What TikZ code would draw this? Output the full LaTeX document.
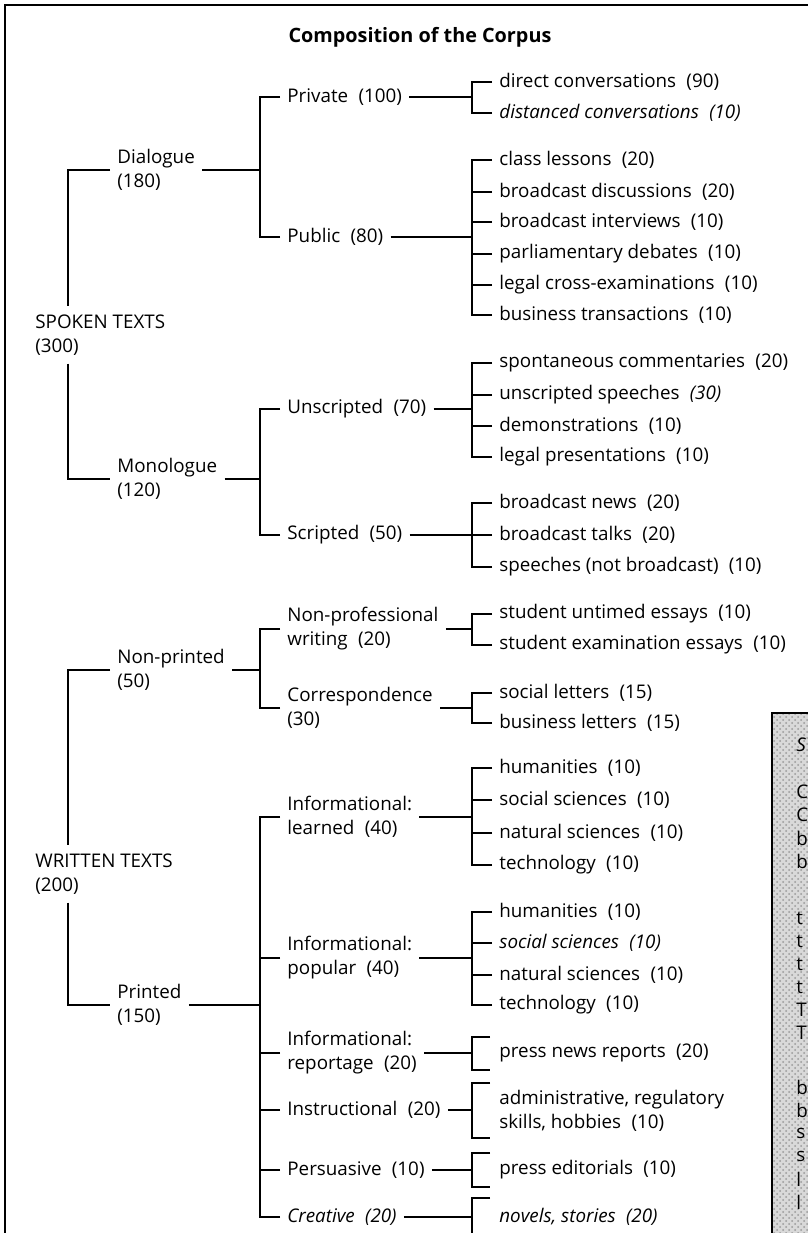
\documentclass[tikz,border=0pt]{standalone}
\usepackage{fontspec}
\setmainfont{Open Sans}
\usepackage{tikz}
\usetikzlibrary{patterns}
\newcommand{\ncount}[1]{\hspace{.55em}(#1)}

\begin{document}
\begin{tikzpicture}[
      x=0.5pt, y=-0.5pt,
      font=\fontsize{9.4}{12}\selectfont,
      lbl/.style={anchor=west, align=left, inner xsep=3.5pt, inner ysep=2pt},
      root/.style={lbl, inner ysep=4pt},
      leaf/.style={lbl},
      keytxt/.style={anchor=west, inner sep=0pt},
      br/.style={line width=0.7pt},
      frame/.style={line width=1.1pt}
    ]
      \useasboundingbox (0,0) rectangle (808,1233);
      \clip (0,0) rectangle (808,1233);
      \draw[frame] (5,1245) -- (5,5) -- (820,5);

      \node[font=\fontsize{9.9}{12}\selectfont\bfseries] (title) at (420,37) {Composition of the Corpus};

      % roots and main branches
      \node[root] (spk) at (28,335) {SPOKEN TEXTS\\(300)};
      \node[root] (wrt) at (28,874) {WRITTEN TEXTS\\(200)};
      \node[lbl] (dlg) at (110,170) {Dialogue\\(180)};
      \node[lbl] (mon) at (110,479) {Monologue\\(120)};
      \node[lbl] (npr) at (110,670) {Non-printed\\(50)};
      \node[lbl] (prt) at (110,1005) {Printed\\(150)};
      \draw[br] (dlg.west) -| ([xshift=20pt]spk.north west);
      \draw[br] ([xshift=20pt]spk.south west) |- (mon.west);
      \draw[br] (npr.west) -| ([xshift=20pt]wrt.north west);
      \draw[br] ([xshift=20pt]wrt.south west) |- (prt.west);

      \coordinate (jDlg) at (260,170);
      \coordinate (jMon) at (260,479);
      \coordinate (jNpr) at (260,670);
      \coordinate (jPrt) at (260,1005);

      \node[lbl] (prv) at (280,97) {Private\ncount{100}};
      \node[lbl] (pub) at (280,237) {Public\ncount{80}};
      \node[lbl] (uns) at (280,409) {Unscripted\ncount{70}};
      \node[lbl] (scr) at (280,535) {Scripted\ncount{50}};
      \node[lbl] (npw) at (280,629) {Non-professional\\writing\ncount{20}};
      \node[lbl] (cor) at (280,708) {Correspondence\\(30)};
      \node[lbl] (ilr) at (280,817) {Informational:\\learned\ncount{40}};
      \node[lbl] (ipo) at (280,958) {Informational:\\popular\ncount{40}};
      \node[lbl] (irp) at (280,1053) {Informational:\\reportage\ncount{20}};
      \node[lbl] (ins) at (280,1110) {Instructional\ncount{20}};
      \node[lbl] (per) at (280,1170) {Persuasive\ncount{10}};
      \node[lbl] (cre) at (280,1217) {\textit{Creative\ncount{20}}};

      \draw[br] (dlg.east) -- (jDlg);
      \draw[br] (mon.east) -- (jMon);
      \draw[br] (npr.east) -- (jNpr);
      \draw[br] (prt.east) -- (jPrt);
      \foreach \c/\j in {prv/jDlg, pub/jDlg, uns/jMon, scr/jMon, npw/jNpr, cor/jNpr,
          ilr/jPrt, ipo/jPrt, irp/jPrt, ins/jPrt, per/jPrt, cre/jPrt}
        \draw[br] (\c.west) -| (\j);

      \coordinate (jPrv) at (472,97);
      \coordinate (jPub) at (472,237);
      \coordinate (jUns) at (472,409);
      \coordinate (jScr) at (472,535);
      \coordinate (jNpw) at (472,629);
      \coordinate (jCor) at (472,708);
      \coordinate (jIlr) at (472,817);
      \coordinate (jIpo) at (472,958);
      \coordinate (jIrp) at (472,1053);
      \coordinate (jIns) at (472,1110);
      \coordinate (jPer) at (472,1170);
      \coordinate (jCre) at (472,1217);
      \foreach \p/\j in {prv/jPrv, pub/jPub, uns/jUns, scr/jScr, npw/jNpw, cor/jCor,
          ilr/jIlr, ipo/jIpo, irp/jIrp, ins/jIns, per/jPer, cre/jCre}
        \draw[br] (\p.east) -- (\j);

      % leaves
      \node[leaf] (dcv) at (492,82) {direct conversations\ncount{90}};
      \node[leaf] (dsc) at (492,113) {\textit{distanced conversations\ncount{10}}};
      \node[leaf] (cls) at (492,160) {class lessons\ncount{20}};
      \node[leaf] (bdi) at (492,192) {broadcast discussions\ncount{20}};
      \node[leaf] (bin) at (492,222) {broadcast interviews\ncount{10}};
      \node[leaf] (pde) at (492,254) {parliamentary debates\ncount{10}};
      \node[leaf] (lce) at (492,285) {legal cross-examinations\ncount{10}};
      \node[leaf] (btr) at (492,315) {business transactions\ncount{10}};
      \node[leaf] (spc) at (492,363) {spontaneous commentaries\ncount{20}};
      \node[leaf] (usp) at (492,395) {unscripted speeches\hspace{.55em}\textit{(30)}};
      \node[leaf] (dem) at (492,426) {demonstrations\ncount{10}};
      \node[leaf] (lpr) at (492,457) {legal presentations\ncount{10}};
      \node[leaf] (bnw) at (492,503) {broadcast news\ncount{20}};
      \node[leaf] (btk) at (492,535) {broadcast talks\ncount{20}};
      \node[leaf] (snb) at (492,567) {speeches (not broadcast)\ncount{10}};
      \node[leaf] (sue) at (492,614) {student untimed essays\ncount{10}};
      \node[leaf] (see) at (492,645) {student examination essays\ncount{10}};
      \node[leaf] (slt) at (492,693) {social letters\ncount{15}};
      \node[leaf] (blt) at (492,723) {business letters\ncount{15}};
      \node[leaf] (lhu) at (492,768) {humanities\ncount{10}};
      \node[leaf] (lss) at (492,800) {social sciences\ncount{10}};
      \node[leaf] (lns) at (492,833) {natural sciences\ncount{10}};
      \node[leaf] (lte) at (492,865) {technology\ncount{10}};
      \node[leaf] (phu) at (492,912) {humanities\ncount{10}};
      \node[leaf] (pss) at (492,943) {\textit{social sciences\ncount{10}}};
      \node[leaf] (pns) at (492,975) {natural sciences\ncount{10}};
      \node[leaf] (pte) at (492,1005) {technology\ncount{10}};
      \node[leaf] (pnr) at (492,1053) {press news reports\ncount{20}};
      \node[leaf] (adm) at (492,1111) {administrative, regulatory\\skills, hobbies\ncount{10}};
      \node[leaf] (ped) at (492,1170) {press editorials\ncount{10}};
      \node[leaf] (nov) at (492,1217) {\textit{novels, stories\ncount{20}}};

      \foreach \l/\j in {dcv/jPrv, dsc/jPrv, cls/jPub, bdi/jPub, bin/jPub, pde/jPub,
          lce/jPub, btr/jPub, spc/jUns, usp/jUns, dem/jUns, lpr/jUns, bnw/jScr,
          btk/jScr, snb/jScr, sue/jNpw, see/jNpw, slt/jCor, blt/jCor, lhu/jIlr,
          lss/jIlr, lns/jIlr, lte/jIlr, phu/jIpo, pss/jIpo, pns/jIpo, pte/jIpo}
        \draw[br] (\l.west) -| (\j);

      % plain brackets round a single leaf
      \coordinate (pnrT) at (490,1037);
      \coordinate (pnrB) at (490,1070);
      \coordinate (admT) at (490,1083);
      \coordinate (admB) at (490,1138);
      \coordinate (pedT) at (490,1153);
      \coordinate (pedB) at (490,1187);
      \coordinate (novT) at (490,1198);
      \coordinate (novB) at (490,1240);
      \draw[br] (pnrT) -| (jIrp) |- (pnrB);
      \draw[br] (admT) -| (jIns) |- (admB);
      \draw[br] (pedT) -| (jPer) |- (pedB);
      \draw[br] (novT) -| (jCre) |- (novB);

      % key box, cut at the page edge
      \fill[gray!30] (772,713) rectangle (830,1250);
      \draw[line width=0.9pt, pattern=crosshatch dots, pattern color=gray!80]
        (772,713) rectangle (830,1250);
      \foreach \t/\y [count=\i] in {\textit{S}/745, C/792, C/815, b/838, b/861,
          t/918, t/941, t/964, t/987, T/1010, T/1033,
          b/1087, b/1110, s/1133, s/1156, l/1179, l/1202}
        \node[keytxt] (k\i) at (796,\y) {\t};
    \end{tikzpicture}
\end{document}
